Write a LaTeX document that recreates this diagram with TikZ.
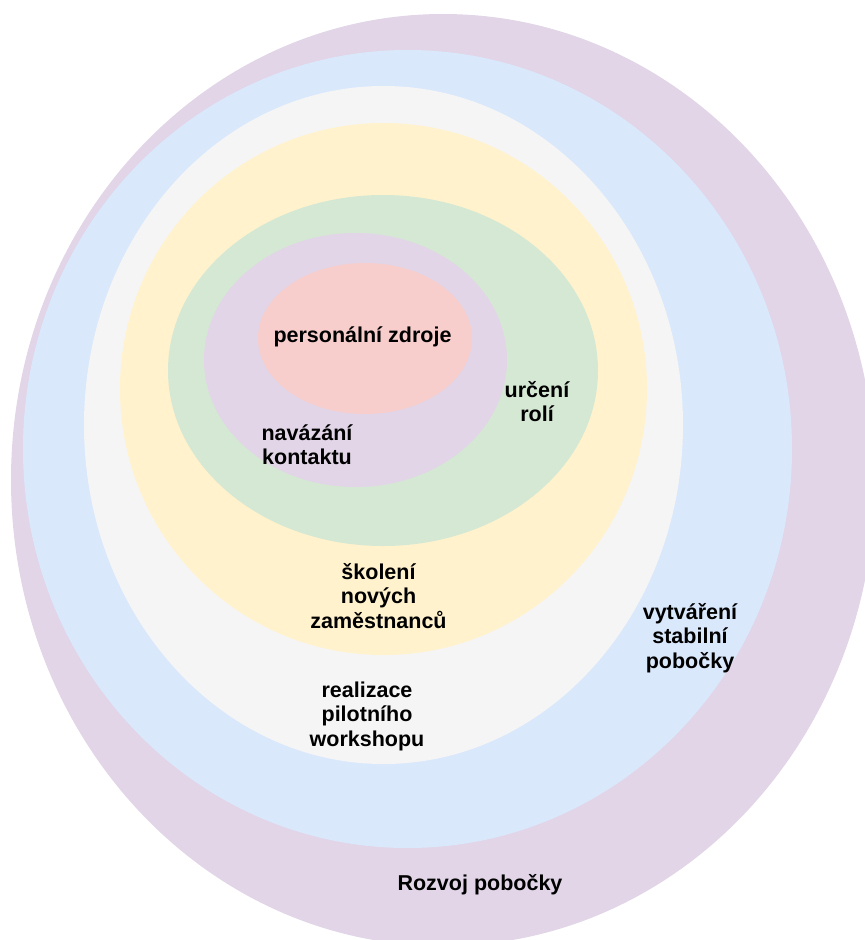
\documentclass[tikz,border=0pt]{standalone}
\usepackage{fontspec}
\setmainfont{Liberation Sans}
\usetikzlibrary{shapes.geometric}

\definecolor{ringPurple}{HTML}{E1D5E7}
\definecolor{ringBlue}{HTML}{DAE8FC}
\definecolor{ringGrey}{HTML}{F5F5F5}
\definecolor{ringYellow}{HTML}{FFF2CC}
\definecolor{ringGreen}{HTML}{D5E8D4}
\definecolor{ringPink}{HTML}{F8CECC}

\tikzset{
  ring/.style={ellipse, draw=none, inner sep=0pt, outer sep=0pt},
  label text/.style={font=\bfseries\fontsize{21.5}{24.5}\selectfont, align=center,
                     inner sep=0pt, text=black}
}

\begin{document}
\begin{tikzpicture}[x=1pt, y=-1pt]
  \useasboundingbox (0,0) rectangle (865,940);

  % nested stages, from the outermost to the core
  \node[ring, fill=ringPurple, minimum width=864pt, minimum height=932pt] (rozvoj)    at (443,480)   {};
  \node[ring, fill=ringBlue,   minimum width=769pt, minimum height=798pt] (stabilni)  at (407.5,449) {};
  \node[ring, fill=ringGrey,   minimum width=599pt, minimum height=678pt] (workshop)  at (383.5,425) {};
  \node[ring, fill=ringYellow, minimum width=527pt, minimum height=532pt] (skoleni)   at (383.5,389) {};
  \node[ring, fill=ringGreen,  minimum width=430pt, minimum height=351pt] (role)      at (383,370.5) {};
  \node[ring, fill=ringPurple, minimum width=303pt, minimum height=254pt] (kontakt)   at (355.5,360) {};
  \node[ring, fill=ringPink,   minimum width=214pt, minimum height=151pt] (zdroje)    at (365,338.5) {};

  % stage labels
  \node[label text] (tZdroje)   at (362.5,337) {personální zdroje};
  \node[label text] (tKontakt)  at (307,444.5) {navázání\\kontaktu};
  \node[label text] (tRole)     at (537,401.5) {určení\\rolí};
  \node[label text] (tSkoleni)  at (378.5,596) {školení\\nových\\zaměstnanců};
  \node[label text] (tWorkshop) at (367,716)   {realizace\\pilotního\\workshopu};
  \node[label text] (tStabilni) at (690,638)   {vytváření\\stabilní\\pobočky};
  \node[label text] (tRozvoj)   at (480,885)   {Rozvoj pobočky};
\end{tikzpicture}
\end{document}
